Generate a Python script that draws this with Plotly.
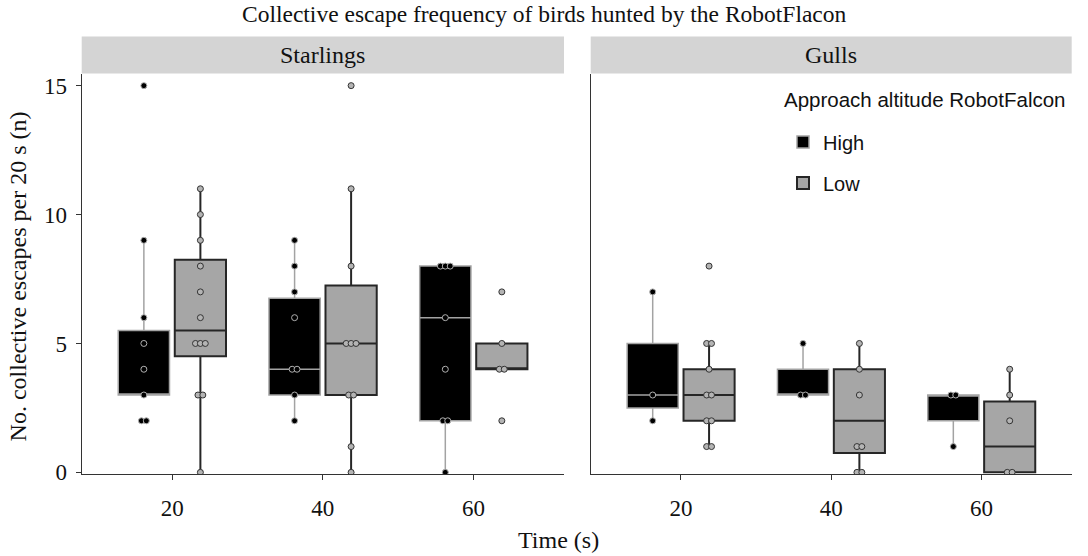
import plotly.graph_objects as go

# ---------------- data ----------------
times = [20, 40, 60]
time_labels = ["20", "40", "60"]
panels = ["Starlings", "Gulls"]
altitudes = ["High", "Low"]

# box statistics per time (20, 40, 60)
starlings_high_q1 = [3, 3, 2]
starlings_high_median = [3, 4, 6]
starlings_high_q3 = [5.5, 6.75, 8]
starlings_high_lower = [3, 2, 0]
starlings_high_upper = [9, 9, 8]

starlings_low_q1 = [4.5, 3, 4]
starlings_low_median = [5.5, 5, 4]
starlings_low_q3 = [8.25, 7.25, 5]
starlings_low_lower = [0, 0, 4]
starlings_low_upper = [11, 11, 5]

gulls_high_q1 = [2.5, 3, 2]
gulls_high_median = [3, 3, 3]
gulls_high_q3 = [5, 4, 3]
gulls_high_lower = [2, 3, 1]
gulls_high_upper = [7, 5, 3]

gulls_low_q1 = [2, 0.75, 0]
gulls_low_median = [3, 2, 1]
gulls_low_q3 = [4, 4, 2.75]
gulls_low_lower = [1, 0, 0]
gulls_low_upper = [5, 5, 4]

# individual observations per time (20, 40, 60)
starlings_high_points = [[15, 9, 6, 5, 4, 3, 2, 2], [9, 8, 7, 6, 4, 4, 3, 2], [8, 8, 8, 6, 4, 2, 2, 0]]
starlings_low_points = [[11, 10, 9, 8, 7, 6, 5, 5, 5, 3, 3, 0], [15, 11, 8, 5, 5, 5, 3, 3, 1, 0], [7, 5, 4, 4, 2]]
gulls_high_points = [[7, 3, 2], [5, 3, 3], [3, 3, 1]]
gulls_low_points = [[8, 5, 5, 4, 3, 3, 2, 2, 1, 1], [5, 4, 3, 1, 1, 0, 0], [4, 3, 2, 0, 0]]

# ---------------- styling ----------------
W, H = 1088, 556
SERIF = "Liberation Serif, Times New Roman, serif"
SANS = "Liberation Sans, Arial, sans-serif"
DODGE = 3.75       # half of the dodge distance (x units)
BOX_W = 6.8        # box width (x units)
SPREAD = 0.65      # horizontal spacing of tied points
style = {
    "High": dict(fill="#000000", line="#A3A3A3", lw=1.5, mfill="#000000", mline="#B0B0B0", off=-DODGE),
    "Low": dict(fill="#A6A6A6", line="#262626", lw=2.0, mfill="#B4B4B4", mline="#333333", off=DODGE),
}

stats = {
    ("Starlings", "High"): (starlings_high_q1, starlings_high_median, starlings_high_q3,
                            starlings_high_lower, starlings_high_upper, starlings_high_points),
    ("Starlings", "Low"): (starlings_low_q1, starlings_low_median, starlings_low_q3,
                           starlings_low_lower, starlings_low_upper, starlings_low_points),
    ("Gulls", "High"): (gulls_high_q1, gulls_high_median, gulls_high_q3,
                        gulls_high_lower, gulls_high_upper, gulls_high_points),
    ("Gulls", "Low"): (gulls_low_q1, gulls_low_median, gulls_low_q3,
                       gulls_low_lower, gulls_low_upper, gulls_low_points),
}


def spread_points(values, center):
    """place tied values side by side around the box centre"""
    xs = [0.0] * len(values)
    groups = {}
    for i, v in enumerate(values):
        groups.setdefault(v, []).append(i)
    for v, idx in groups.items():
        m = len(idx)
        for k, i in enumerate(idx):
            xs[i] = center + (k - (m - 1) / 2) * SPREAD
    return xs


fig = go.Figure()
for pi, panel in enumerate(panels):
    xa = "x" if pi == 0 else "x2"
    ya = "y" if pi == 0 else "y2"
    for alt in altitudes:
        s = style[alt]
        q1, med, q3, lo, hi, pts = stats[(panel, alt)]
        fig.add_trace(go.Box(
            x=[t + s["off"] for t in times], q1=q1, median=med, q3=q3,
            lowerfence=lo, upperfence=hi, width=BOX_W,
            fillcolor=s["fill"], line=dict(color=s["line"], width=s["lw"]),
            whiskerwidth=0, boxpoints=False, name=alt, legendgroup=alt,
            showlegend=(pi == 0), xaxis=xa, yaxis=ya, hoverinfo="skip",
        ))
    for alt in altitudes:
        s = style[alt]
        pts = stats[(panel, alt)][5]
        px, py = [], []
        for t, vals in zip(times, pts):
            px += spread_points(vals, t + s["off"])
            py += vals
        fig.add_trace(go.Scatter(
            x=px, y=py, mode="markers", showlegend=False, legendgroup=alt,
            marker=dict(size=6, color=s["mfill"], line=dict(color=s["mline"], width=1)),
            xaxis=xa, yaxis=ya, hoverinfo="skip",
        ))

# geometry (paper fractions)
px1 = (81.7 / W, 564 / W)
px2 = (590.7 / W, 1071.7 / W)
py_dom = (1 - 484 / H, 1 - 75 / H)

axis_common = dict(showgrid=False, zeroline=False, showline=True, linecolor="#333333",
                   linewidth=1.1, ticks="outside", ticklen=5, tickcolor="#333333",
                   tickfont=dict(family=SERIF, size=23, color="#111111"))
fig.update_layout(
    width=W, height=H, margin=dict(l=0, r=0, t=0, b=0),
    paper_bgcolor="white", plot_bgcolor="white", boxmode="overlay",
    xaxis=dict(domain=px1, range=[8, 72], tickvals=times, ticktext=time_labels,
               anchor="y", ticklabelstandoff=8, **axis_common),
    xaxis2=dict(domain=px2, range=[8, 72], tickvals=times, ticktext=time_labels,
                anchor="y2", ticklabelstandoff=8, **axis_common),
    yaxis=dict(domain=py_dom, range=[-0.08, 15.47], tickvals=[0, 5, 10, 15],
               anchor="x", ticklabelstandoff=4, **axis_common),
    yaxis2=dict(domain=py_dom, range=[-0.08, 15.47], anchor="x2", showgrid=False,
                zeroline=False, showline=True, linecolor="#333333", linewidth=1.1,
                showticklabels=False, ticks=""),
    legend=dict(x=783 / W, y=1 - 125 / H, xanchor="left", yanchor="top",
                bgcolor="rgba(0,0,0,0)", font=dict(family=SANS, size=20, color="#111111"),
                traceorder="grouped", tracegroupgap=12),
)

shapes = []
annotations = []
for dom, name in zip([px1, px2], panels):
    shapes.append(dict(type="rect", xref="paper", yref="paper", x0=dom[0], x1=dom[1],
                       y0=1 - 75 / H, y1=1 - 37.3 / H, fillcolor="#D4D4D4",
                       line=dict(width=0), layer="below"))
    annotations.append(dict(text=name, xref="paper", yref="paper", x=(dom[0] + dom[1]) / 2,
                            y=1 - 56.5 / H, xanchor="center", yanchor="middle", showarrow=False,
                            font=dict(family=SERIF, size=24, color="#111111")))
annotations.append(dict(text="Approach altitude RobotFalcon", xref="paper", yref="paper",
                        x=782 / W, y=1 - 102 / H, xanchor="left", yanchor="middle",
                        showarrow=False, font=dict(family=SANS, size=20.5, color="#111111")))
annotations.append(dict(text="Collective escape frequency of birds hunted by the RobotFlacon",
                        xref="paper", yref="paper", x=544 / W, y=1 - 14 / H, xanchor="center",
                        yanchor="middle", showarrow=False,
                        font=dict(family=SERIF, size=23.5, color="#111111")))
annotations.append(dict(text="Time (s)", xref="paper", yref="paper", x=558 / W, y=0,
                        xanchor="center", yanchor="bottom", yshift=-10, showarrow=False,
                        font=dict(family=SERIF, size=24, color="#111111")))
annotations.append(dict(text="No. collective escapes per 20 s (n)", xref="paper", yref="paper",
                        x=18 / W, y=1 - 282 / H, xanchor="center", yanchor="middle",
                        textangle=-90, showarrow=False,
                        font=dict(family=SERIF, size=24, color="#111111")))
fig.update_layout(shapes=shapes, annotations=annotations)

fig.write_html("out.html")
